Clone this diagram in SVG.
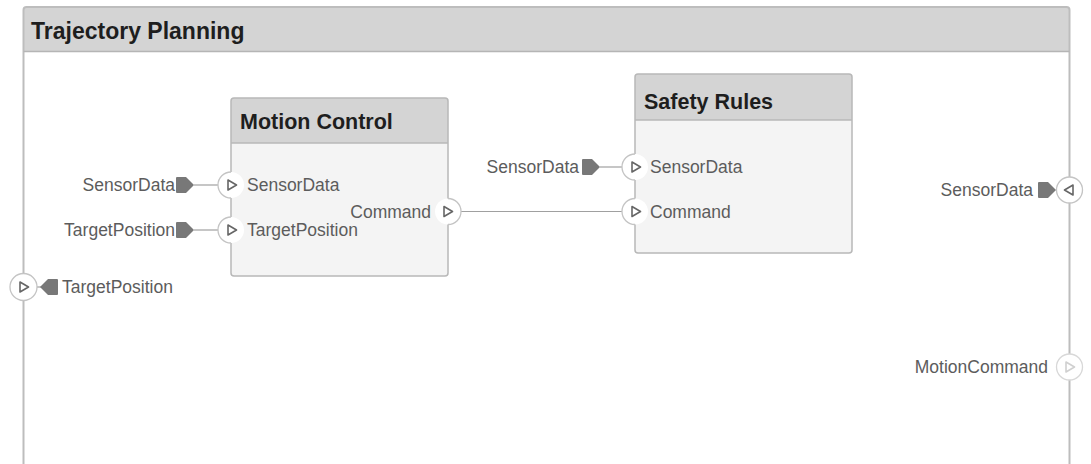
<svg xmlns="http://www.w3.org/2000/svg" width="1091" height="464" viewBox="0 0 1091 464">
  <style>
    .lbl { font-family: "Liberation Sans", Arial, sans-serif; font-size: 17.5px; fill: #5c5c5c; }
    .ttl { font-family: "Liberation Sans", Arial, sans-serif; font-size: 21.5px; font-weight: bold; fill: #1e1e1e; }
    .head { fill: #d4d4d4; }
    .body { fill: #f4f4f4; }
    .edge { fill: none; stroke: #b8b8b8; stroke-width: 1.5; }
    .wire { stroke: #a0a0a0; stroke-width: 1.2; fill: none; }
    .tag { fill: #787878; }
    .pfill { fill: #ffffff; }
    .parc { fill: none; stroke: #c4c4c4; stroke-width: 1.3; }
    .tri { fill: none; stroke: #666666; stroke-width: 1.6; stroke-linejoin: round; }
    .faint { stroke: #d8d8d8; }
    .faintTri { stroke: #d0d0d0; }
  </style>
  <defs>
    <!-- signal tag pointing right, origin at its tip -->
    <path id="tagR" d="M-18,-7 Q-18,-8 -17,-8 L-8,-8 L0,0 L-8,8 L-17,8 Q-18,8 -18,7 Z"/>
    <!-- signal tag pointing left, origin at its tip -->
    <path id="tagL" d="M18,-7 Q18,-8 17,-8 L8,-8 L0,0 L8,8 L17,8 Q18,8 18,7 Z"/>
    <!-- port direction glyphs, centred on origin -->
    <path id="triR" d="M-4,-5 L4.5,0 L-4,5 Z"/>
    <path id="triL" d="M4,-5 L-4.5,0 L4,5 Z"/>
  </defs>

  <rect width="1091" height="464" fill="#ffffff"/>

  <!-- composition frame -->
  <g id="trajectory-planning">
    <path class="head" d="M23.5,51.5 L23.5,10 Q23.5,7 26.5,7 L1066.5,7 Q1069.5,7 1069.5,10 L1069.5,51.5 Z"/>
    <path d="M23.5,470 L23.5,10 Q23.5,7 26.5,7 L1066.5,7 Q1069.5,7 1069.5,10 L1069.5,470" fill="none" stroke="#bdbdbd" stroke-width="2"/>
    <line x1="23.5" y1="51.5" x2="1069.5" y2="51.5" stroke="#b5b5b5" stroke-width="1.5"/>
    <text class="ttl" x="31" y="39" style="font-size:23px">Trajectory Planning</text>
  </g>

  <!-- connectors -->
  <g id="connectors">
    <line class="wire" x1="194" y1="185" x2="218" y2="185"/>
    <line class="wire" x1="194" y1="230" x2="218" y2="230"/>
    <line class="wire" x1="461" y1="211.5" x2="622" y2="211.5"/>
    <line class="wire" x1="600" y1="167" x2="622" y2="167"/>
    <line class="wire" x1="58" y1="287" x2="37" y2="287"/>
  </g>

  <!-- Motion Control component -->
  <g id="motion-control">
    <path class="body" d="M231,143 L448,143 L448,273 Q448,276 445,276 L234,276 Q231,276 231,273 Z"/>
    <path class="head" d="M231,143 L231,101 Q231,98 234,98 L445,98 Q448,98 448,101 L448,143 Z"/>
    <rect class="edge" x="231" y="98" width="217" height="178" rx="3"/>
    <line x1="231" y1="143" x2="448" y2="143" stroke="#b8b8b8" stroke-width="1.3"/>
    <text class="ttl" x="240" y="129">Motion Control</text>

    <g id="mc-in-sensordata">
      <circle class="pfill" cx="231" cy="185" r="13"/>
      <path class="parc" d="M231,172 A13,13 0 0 0 231,198"/>
      <use href="#triR" class="tri" x="232" y="185"/>
      <text class="lbl" x="247" y="191">SensorData</text>
    </g>
    <g id="mc-in-targetposition">
      <circle class="pfill" cx="231" cy="230" r="13"/>
      <path class="parc" d="M231,217 A13,13 0 0 0 231,243"/>
      <use href="#triR" class="tri" x="232" y="230"/>
      <text class="lbl" x="247" y="236">TargetPosition</text>
    </g>
    <g id="mc-out-command">
      <circle class="pfill" cx="448" cy="211.5" r="13"/>
      <path class="parc" d="M448,198.5 A13,13 0 0 1 448,224.5"/>
      <use href="#triR" class="tri" x="448" y="211.5"/>
      <text class="lbl" x="431" y="217.5" text-anchor="end">Command</text>
    </g>

    <use href="#tagR" class="tag" x="194" y="185"/>
    <text class="lbl" x="175" y="191" text-anchor="end">SensorData</text>
    <use href="#tagR" class="tag" x="194" y="230"/>
    <text class="lbl" x="175" y="236" text-anchor="end">TargetPosition</text>
  </g>

  <!-- Safety Rules component -->
  <g id="safety-rules">
    <path class="body" d="M635,120 L852,120 L852,250 Q852,253 849,253 L638,253 Q635,253 635,250 Z"/>
    <path class="head" d="M635,120 L635,77 Q635,74 638,74 L849,74 Q852,74 852,77 L852,120 Z"/>
    <rect class="edge" x="635" y="74" width="217" height="179" rx="3"/>
    <line x1="635" y1="120" x2="852" y2="120" stroke="#b8b8b8" stroke-width="1.3"/>
    <text class="ttl" x="644" y="109">Safety Rules</text>

    <g id="sr-in-sensordata">
      <circle class="pfill" cx="635" cy="167" r="13"/>
      <path class="parc" d="M635,154 A13,13 0 0 0 635,180"/>
      <use href="#triR" class="tri" x="636" y="167"/>
      <text class="lbl" x="650" y="173">SensorData</text>
    </g>
    <g id="sr-in-command">
      <circle class="pfill" cx="635" cy="211.5" r="13"/>
      <path class="parc" d="M635,198.5 A13,13 0 0 0 635,224.5"/>
      <use href="#triR" class="tri" x="636" y="211.5"/>
      <text class="lbl" x="650" y="217.5">Command</text>
    </g>

    <use href="#tagR" class="tag" x="600" y="167"/>
    <text class="lbl" x="579" y="173" text-anchor="end">SensorData</text>
  </g>

  <!-- boundary port: TargetPosition (left) -->
  <g id="boundary-targetposition">
    <circle class="pfill" cx="23.5" cy="287" r="13.5"/>
    <circle class="parc" cx="23.5" cy="287" r="13.5"/>
    <use href="#triR" class="tri" x="24" y="287"/>
    <use href="#tagL" class="tag" x="40" y="287"/>
    <text class="lbl" x="62" y="293">TargetPosition</text>
  </g>

  <!-- boundary port: SensorData (right) -->
  <g id="boundary-sensordata">
    <circle class="pfill" cx="1069.5" cy="190" r="13"/>
    <circle class="parc" cx="1069.5" cy="190" r="13"/>
    <use href="#triL" class="tri" x="1069" y="190"/>
    <use href="#tagR" class="tag" x="1056" y="190"/>
    <text class="lbl" x="1033" y="196" text-anchor="end">SensorData</text>
  </g>

  <!-- boundary port: MotionCommand (right, unconnected) -->
  <g id="boundary-motioncommand">
    <circle class="pfill" cx="1069.5" cy="367" r="13"/>
    <circle class="parc faint" cx="1069.5" cy="367" r="13"/>
    <use href="#triR" class="tri faintTri" x="1070" y="367"/>
    <text class="lbl" x="1048" y="373" text-anchor="end">MotionCommand</text>
  </g>
</svg>
